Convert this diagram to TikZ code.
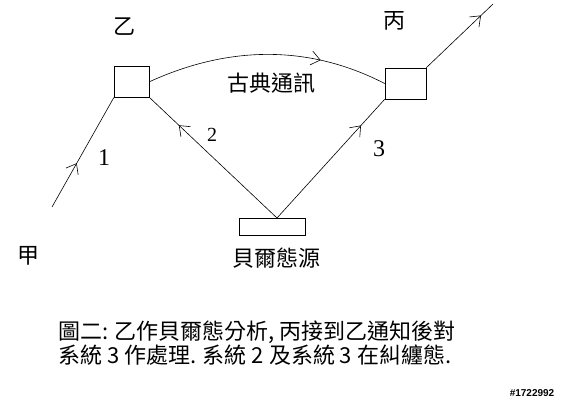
\documentclass[tikz,border=0pt]{standalone}
\usepackage{fontspec}
\setmainfont{Liberation Serif}
\setsansfont{Liberation Sans}
\newfontfamily\cjk{Noto Sans CJK TC}
\usetikzlibrary{arrows.meta,decorations.markings}
\begin{document}
\begin{tikzpicture}[x=1pt,y=-1pt,
  box/.style={draw,line width=0.7pt,inner sep=0pt},
  conn/.style={line width=0.6pt},
  arr/.style={postaction={decorate},decoration={markings,mark=at position #1 with {\arrow{Straight Barb[length=9pt,width=14pt,line width=0.6pt]}}}},
  cjklabel/.style={font=\cjk\fontsize{22}{22}\selectfont,inner sep=0pt},
  numlabel/.style={font=\fontsize{24}{24}\selectfont,inner sep=0pt}
]
\useasboundingbox (0,0) rectangle (567,401);
% boxes
\node[box,minimum width=35pt,minimum height=31pt] (B) at (131.7,81.7) {};
\node[box,minimum width=41pt,minimum height=31pt] (C) at (405.5,83.5) {};
\node[box,minimum width=66pt,minimum height=17pt] (S) at (272.5,226.5) {};
% free ends
\coordinate (v) at (277,218);
\coordinate (a1) at (52,207);
\coordinate (out) at (493,4);
% labels
\node[cjklabel] (lyi) at (124,27) {乙};
\node[cjklabel] (lbing) at (394,21) {丙};
\node[cjklabel] (ljia) at (28,256) {甲};
\node[cjklabel] (lclass) at (271,83) {古典通訊};
\node[cjklabel] (lsrc) at (276,258) {貝爾態源};
\node[numlabel] (n1) at (104,158) {1};
\node[numlabel,font=\fontsize{20}{20}\selectfont] (n2) at (212,135) {2};
\node[numlabel] (n3) at (379,149) {3};
% connectors
\draw[conn,arr=0.4] (a1) -- (B.south west);
\draw[conn,arr=0.77] (v) -- (B.south east);
\draw[conn,arr=0.78] (v) -- (C.south west);
\draw[conn,arr=0.82] (C.north east) -- (out);
\draw[conn,arr=0.72] (B.east) .. controls (230,45) and (310,45) .. (C.west);
% caption
\node[anchor=north west,align=left,font=\cjk\fontsize{22}{22}\selectfont,inner sep=0pt] (cap) at (58,321)
  {圖二: 乙作貝爾態分析, 丙接到乙通知後對\\系統 3 作處理. 系統 2 及系統 3 在糾纏態.};
\node[font=\sffamily\bfseries\fontsize{10}{10}\selectfont,inner sep=0pt] (wm) at (532,393) {\#1722992};
\end{tikzpicture}
\end{document}
